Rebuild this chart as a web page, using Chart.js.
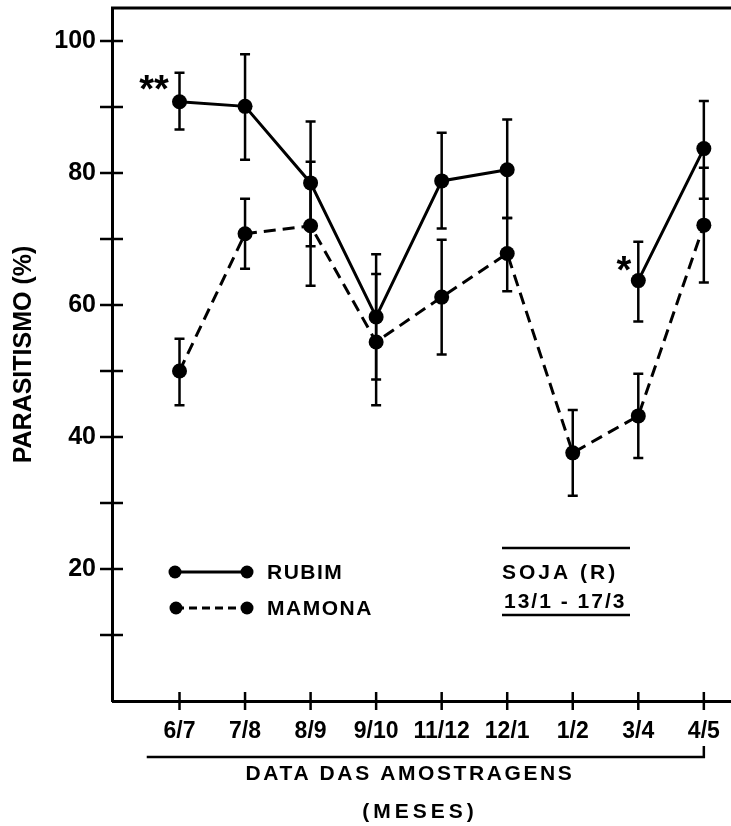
<!DOCTYPE html>
<html lang="pt">
<head>
<meta charset="UTF-8" />
<title>Parasitismo</title>
<script src="https://cdn.jsdelivr.net/npm/chart.js"></script>
<style>
  html, body { margin: 0; padding: 0; background: #fff; }
  canvas { display: block; }
</style>
</head>
<body>
<canvas id="chart" width="731" height="826"></canvas>
<script>
  // sampling periods (months)
  const months = ['6/7', '7/8', '8/9', '9/10', '11/12', '12/1', '1/2', '3/4', '4/5'];

  // RUBIM (solid), mean and error bar ends
  const rubim     = [90.8, 90.1, 78.5, 58.2, 78.8, 80.5, null, 63.7, 83.7];
  const rubimLow  = [86.6, 82.0, 68.9, 48.7, 71.6, 73.2, null, 57.5, 76.1];
  const rubimHigh = [95.2, 98.0, 87.8, 67.7, 86.1, 88.1, null, 69.6, 90.9];

  // MAMONA (dashed)
  const mamona     = [50.0, 70.8, 72.0, 54.4, 61.2, 67.8, 37.6, 43.2, 72.1];
  const mamonaLow  = [44.8, 65.5, 62.9, 44.8, 52.5, 62.1, 31.1, 36.8, 63.4];
  const mamonaHigh = [54.9, 76.1, 81.7, 64.7, 69.9, 73.2, 44.1, 49.6, 80.8];

  const yTicks  = [10, 20, 30, 40, 50, 60, 70, 80, 90, 100];
  const yLabels = [20, 40, 60, 80, 100];

  const FONT = 'Liberation Sans, Arial, sans-serif';

  function pts(values) {
    return values.map((v, i) => ({ x: i, y: v }));
  }

  function spacedText(ctx, text, x, y, size, spacing, align) {
    ctx.font = 'bold ' + size + 'px ' + FONT;
    ctx.letterSpacing = spacing + 'px';
    ctx.textBaseline = 'middle';
    let w = ctx.measureText(text).width;
    let left = x;
    if (align === 'center') left = x - w / 2;
    ctx.textAlign = 'left';
    ctx.fillText(text, left, y);
    ctx.letterSpacing = '0px';
  }

  function errorBars(ctx, xs, ys, low, high) {
    low.forEach((lo, i) => {
      if (lo === null) return;
      const px = xs.getPixelForValue(i);
      const y1 = ys.getPixelForValue(lo);
      const y2 = ys.getPixelForValue(high[i]);
      ctx.beginPath();
      ctx.moveTo(px, y1); ctx.lineTo(px, y2);
      ctx.moveTo(px - 5, y1); ctx.lineTo(px + 5, y1);
      ctx.moveTo(px - 5, y2); ctx.lineTo(px + 5, y2);
      ctx.stroke();
    });
  }

  const extras = {
    id: 'extras',
    beforeDraw(chart) {
      const ctx = chart.ctx;
      ctx.save();
      ctx.fillStyle = '#fff';
      ctx.fillRect(0, 0, chart.width, chart.height);
      ctx.restore();
    },
    beforeDatasetsDraw(chart) {
      const { ctx, scales: { x, y } } = chart;
      ctx.save();
      ctx.strokeStyle = '#000';
      ctx.lineWidth = 2.5;
      errorBars(ctx, x, y, rubimLow, rubimHigh);
      errorBars(ctx, x, y, mamonaLow, mamonaHigh);
      ctx.restore();
    },
    afterDraw(chart) {
      const { ctx, chartArea: a, scales: { x, y } } = chart;
      ctx.save();
      ctx.strokeStyle = '#000';
      ctx.fillStyle = '#000';

      // top frame line, and the x axis carried on to the page edge
      const by = Math.round(a.bottom - 1.5) + 1.5;
      ctx.lineWidth = 3;
      ctx.beginPath();
      ctx.moveTo(a.left - 1, a.top); ctx.lineTo(chart.width, a.top);
      ctx.moveTo(a.left, by); ctx.lineTo(chart.width, by);
      ctx.stroke();

      // tick marks crossing both axes
      ctx.lineWidth = 2.5;
      ctx.beginPath();
      yTicks.forEach(v => {
        const py = y.getPixelForValue(v);
        ctx.moveTo(a.left - 12, py); ctx.lineTo(a.left + 11, py);
      });
      months.forEach((m, i) => {
        const px = x.getPixelForValue(i);
        ctx.moveTo(px, a.bottom - 9); ctx.lineTo(px, a.bottom + 9);
      });
      ctx.stroke();

      // bracket under the month labels
      const bx1 = x.getPixelForValue(-0.5);
      const bx2 = x.getPixelForValue(months.length - 1);
      ctx.lineWidth = 2.5;
      ctx.beginPath();
      ctx.moveTo(bx1, 757); ctx.lineTo(bx2, 757); ctx.lineTo(bx2, 746);
      ctx.stroke();

      // axis title
      spacedText(ctx, 'DATA DAS AMOSTRAGENS', 410, 774, 21, 2.6, 'center');
      spacedText(ctx, '(MESES)', 420, 812, 21, 4, 'center');

      // legend
      ctx.lineWidth = 3;
      ctx.beginPath();
      ctx.moveTo(175, 572); ctx.lineTo(247, 572);
      ctx.stroke();
      ctx.setLineDash([8, 5]);
      ctx.beginPath();
      ctx.moveTo(176, 608); ctx.lineTo(247, 608);
      ctx.stroke();
      ctx.setLineDash([]);
      [[175, 572], [247, 572], [176, 608], [247, 608]].forEach(p => {
        ctx.beginPath();
        ctx.arc(p[0], p[1], 6.5, 0, Math.PI * 2);
        ctx.fill();
      });
      spacedText(ctx, 'RUBIM', 267, 573, 21, 1.5, 'left');
      spacedText(ctx, 'MAMONA', 267, 609, 21, 1.5, 'left');

      // host plant note
      ctx.lineWidth = 2.5;
      ctx.beginPath();
      ctx.moveTo(502, 548); ctx.lineTo(630, 548);
      ctx.moveTo(502, 615); ctx.lineTo(630, 615);
      ctx.stroke();
      spacedText(ctx, 'SOJA (R)', 502, 573, 21, 3, 'left');
      spacedText(ctx, '13/1 - 17/3', 504, 602, 21, 2, 'left');

      // significance marks
      spacedText(ctx, '**', 154, 92, 38, 0, 'center');
      spacedText(ctx, '*', 624, 273, 38, 0, 'center');

      ctx.restore();
    }
  };

  new Chart(document.getElementById('chart'), {
    type: 'line',
    data: {
      datasets: [
        {
          label: 'RUBIM',
          data: pts(rubim),
          borderColor: '#000',
          borderWidth: 3,
          pointRadius: 7.5,
          pointBackgroundColor: '#000',
          pointBorderWidth: 0,
          tension: 0
        },
        {
          label: 'MAMONA',
          data: pts(mamona),
          borderColor: '#000',
          borderWidth: 3,
          borderDash: [12, 7],
          pointRadius: 7.5,
          pointBackgroundColor: '#000',
          pointBorderWidth: 0,
          tension: 0
        }
      ]
    },
    options: {
      responsive: false,
      animation: false,
      devicePixelRatio: 1,
      layout: { padding: { top: 8, left: 0, right: 0, bottom: 0 } },
      plugins: {
        legend: { display: false },
        tooltip: { enabled: false }
      },
      scales: {
        x: {
          type: 'linear',
          min: -1.03,
          max: 8.30,
          afterBuildTicks: s => { s.ticks = months.map((m, i) => ({ value: i })); },
          afterFit: s => {
            s.height = 125;
            s.paddingLeft = 0;
            s.paddingRight = 0;
          },
          grid: { display: false, drawTicks: false },
          border: { display: false },
          ticks: {
            color: '#000',
            padding: 17,
            maxRotation: 0,
            autoSkip: false,
            font: { family: FONT, size: 23, weight: 'bold' },
            callback: v => months[v] ?? ''
          }
        },
        y: {
          min: 0,
          max: 105,
          afterBuildTicks: s => { s.ticks = yTicks.map(v => ({ value: v })); },
          afterFit: s => {
            s.width = 112;
            s.paddingTop = 0;
            s.paddingBottom = 0;
          },
          grid: { display: false, drawTicks: false },
          border: { display: true, color: '#000', width: 3 },
          ticks: {
            color: '#000',
            padding: 16,
            font: { family: FONT, size: 25, weight: 'bold' },
            callback: v => yLabels.includes(v) ? String(v) : ''
          },
          title: {
            display: true,
            text: 'PARASITISMO (%)',
            color: '#000',
            font: { family: FONT, size: 25, weight: 'bold' },
            padding: { top: 9, bottom: 0 }
          }
        }
      }
    },
    plugins: [extras]
  });
</script>
</body>
</html>
